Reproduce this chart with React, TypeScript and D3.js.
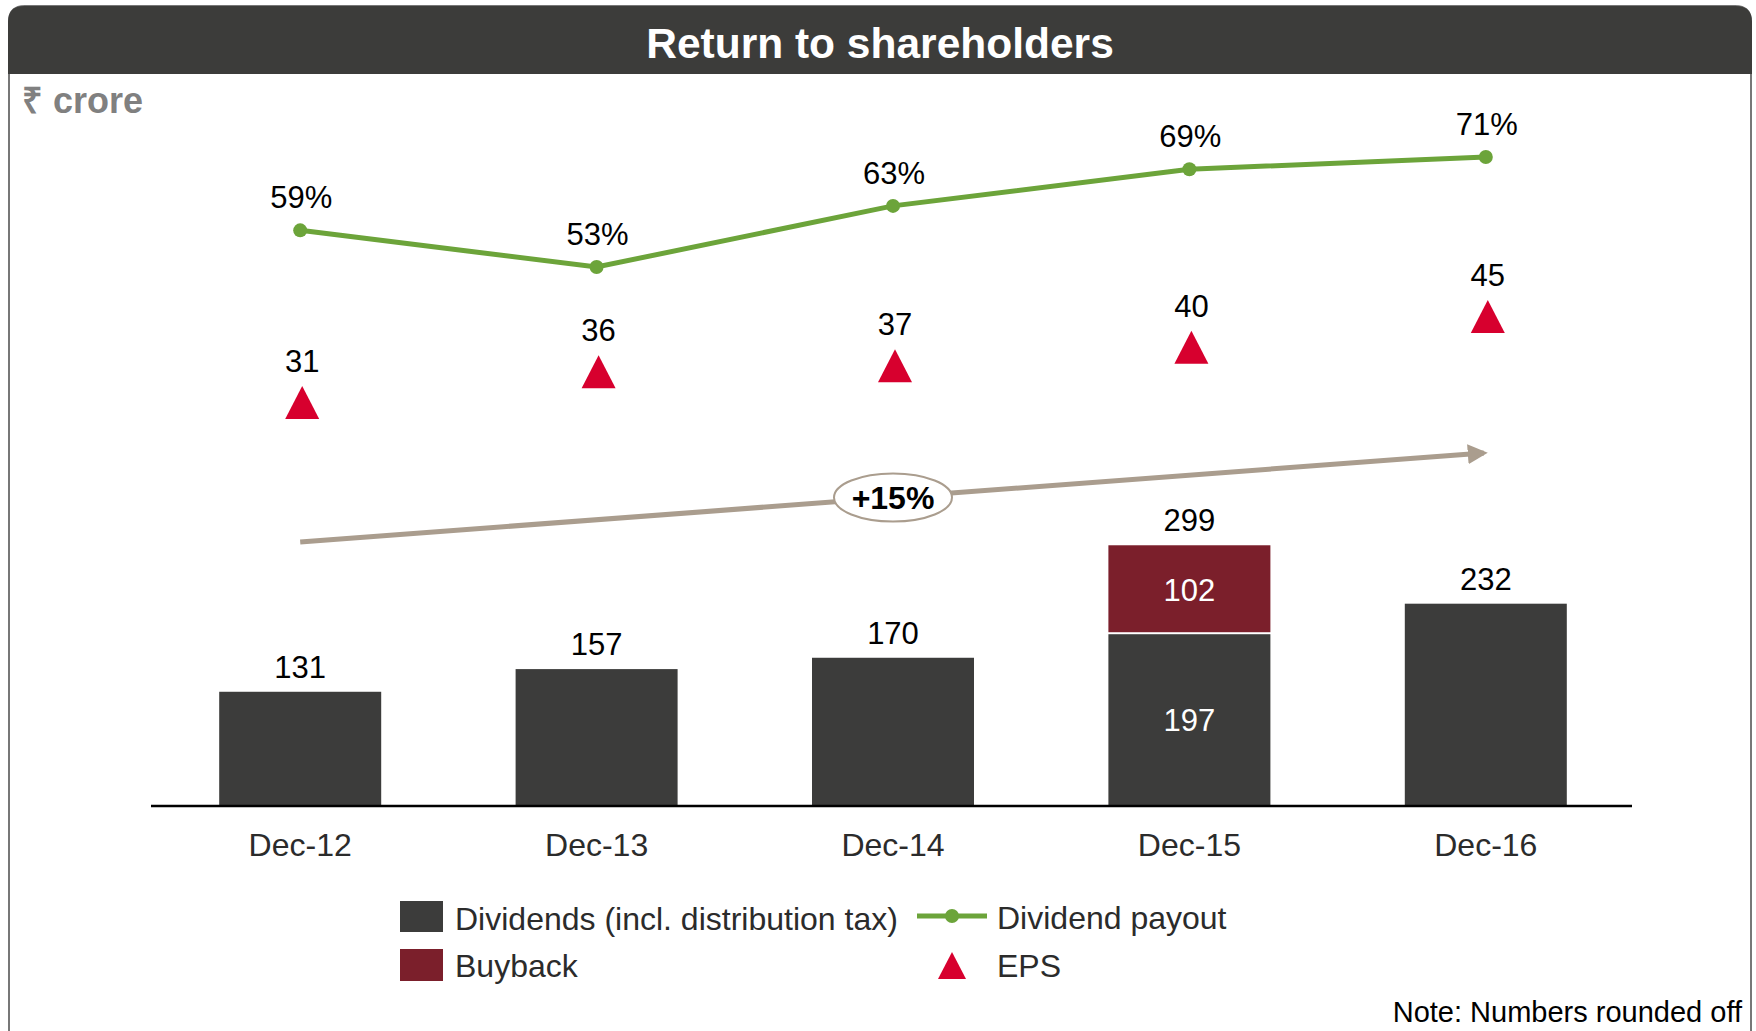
import React from "react";
import * as d3 from "d3";

const categories = ["Dec-12", "Dec-13", "Dec-14", "Dec-15", "Dec-16"];
const dividends = [131, 157, 170, 197, 232];
const buyback = [0, 0, 0, 102, 0];
const totalLabels = [131, 157, 170, 299, 232];
const payout = [59, 53, 63, 69, 71];
const eps = [31, 36, 37, 40, 45];
const cagrLabel = "+15%";
const legendItems = ["Dividends (incl. distribution tax)", "Buyback", "Dividend payout", "EPS"];

const FONT = "'Liberation Sans', Arial, Helvetica, sans-serif";
const C_DARK = "#3c3c3b";
const C_BUY = "#7b1f2b";
const C_GREEN = "#6ca43a";
const C_RED = "#d7002e";
const C_TAUPE = "#aa9d8e";
const C_TEXT = "#2b2b2b";

export default function App() {
  const W = 1756;
  const H = 1031;
  const x = d3.scalePoint<string>().domain(categories).range([152, 1634]).padding(0.5);
  const yBar = d3.scaleLinear().domain([0, 300]).range([806, 544.4]);
  const yPay = d3.scaleLinear().domain([53, 71]).range([267, 157]);
  const yEps = d3.scaleLinear().domain([31, 45]).range([419, 333]);
  const barW = 162;

  const line = d3
    .line<number>()
    .x((_, i) => x(categories[i]) as number)
    .y((d) => yPay(d));

  // trend arrow endpoints tied to first/last category
  const ax0 = x(categories[0]) as number;
  const ax1 = x(categories[4]) as number;
  const ay0 = 542;
  const ay1 = 453;
  const ex = x(categories[2]) as number;
  const ey = ay0 + ((ay1 - ay0) * (ex - ax0)) / (ax1 - ax0);

  const r = 16;
  const framePath = `M9,1040 L9,${6 + r} Q9,6 ${9 + r},6 L${1751 - r},6 Q1751,6 1751,${6 + r} L1751,1040`;
  const titlePath = `M8,74 L8,${6 + r} Q8,6 ${8 + r},6 L${1752 - r},6 Q1752,6 1752,${6 + r} L1752,74 Z`;

  return (
    <svg
      width={W}
      height={H}
      style={{ position: "absolute", left: 0, top: 0, background: "#fff" }}
      fontFamily={FONT}
    >
      <defs>
        <marker id="ah" viewBox="0 0 10 10" refX="8" refY="5" markerWidth="4" markerHeight="4" orient="auto">
          <path d="M0,0 L10,5 L0,10 Z" fill={C_TAUPE} />
        </marker>
      </defs>
      <rect x={0} y={0} width={W} height={H} fill="#fff" />
      <path d={framePath} fill="none" stroke="#777" strokeWidth={2} />
      <path d={titlePath} fill="#3c3c3a" />
      <text x={880} y={58} textAnchor="middle" fill="#fff" fontWeight="bold" fontSize={42.5}>
        Return to shareholders
      </text>
      <text x={22} y={113} fill="#808080" fontWeight="bold" fontSize={36}>
        ₹ crore
      </text>

      {/* bars */}
      {categories.map((c, i) => {
        const cx = x(c) as number;
        const dTop = yBar(dividends[i]);
        const tTop = yBar(dividends[i] + buyback[i]);
        return (
          <g key={c}>
            <rect x={cx - barW / 2} y={dTop} width={barW} height={yBar(0) - dTop} fill={C_DARK} />
            {buyback[i] > 0 && (
              <>
                <rect x={cx - barW / 2} y={tTop} width={barW} height={dTop - tTop - 2} fill={C_BUY} />
                <text x={cx} y={(tTop + dTop) / 2 + 11} textAnchor="middle" fill="#fff" fontSize={31}>
                  {buyback[i]}
                </text>
                <text x={cx} y={(dTop + yBar(0)) / 2 + 11} textAnchor="middle" fill="#fff" fontSize={31}>
                  {dividends[i]}
                </text>
              </>
            )}
            <text x={cx} y={tTop - 14} textAnchor="middle" fill="#000" fontSize={31}>
              {totalLabels[i]}
            </text>
            <text x={cx} y={856} textAnchor="middle" fill={C_TEXT} fontSize={32}>
              {c}
            </text>
          </g>
        );
      })}
      <line x1={151} x2={1632} y1={806} y2={806} stroke="#000" strokeWidth={2.5} />

      {/* trend arrow */}
      <line x1={ax0} y1={ay0} x2={ax1 - 2} y2={ay1} stroke={C_TAUPE} strokeWidth={5} markerEnd="url(#ah)" />
      <ellipse cx={ex} cy={ey} rx={59} ry={24} fill="#fff" stroke={C_TAUPE} strokeWidth={2} />
      <text x={ex} y={ey + 11} textAnchor="middle" fontWeight="bold" fontSize={32} fill="#000">
        {cagrLabel}
      </text>

      {/* payout line */}
      <path d={line(payout) || ""} fill="none" stroke={C_GREEN} strokeWidth={5} />
      {payout.map((v, i) => {
        const cx = x(categories[i]) as number;
        return (
          <g key={"p" + i}>
            <circle cx={cx} cy={yPay(v)} r={7} fill={C_GREEN} />
            <text x={cx + 1} y={yPay(v) - 22} textAnchor="middle" fontSize={31} fill="#000">
              {v}%
            </text>
          </g>
        );
      })}

      {/* EPS */}
      {eps.map((v, i) => {
        const cx = (x(categories[i]) as number) + 2;
        const base = yEps(v);
        return (
          <g key={"e" + i}>
            <path d={`M${cx},${base - 33} L${cx + 17},${base} L${cx - 17},${base} Z`} fill={C_RED} />
            <text x={cx} y={base - 47} textAnchor="middle" fontSize={31} fill="#000">
              {v}
            </text>
          </g>
        );
      })}

      {/* legend */}
      <rect x={400} y={901} width={43} height={31} fill={C_DARK} />
      <text x={455} y={930} fontSize={32} fill={C_TEXT}>{legendItems[0]}</text>
      <rect x={400} y={949} width={43} height={32} fill={C_BUY} />
      <text x={455} y={977} fontSize={32} fill={C_TEXT}>{legendItems[1]}</text>
      <line x1={917} x2={987} y1={916} y2={916} stroke={C_GREEN} strokeWidth={5} />
      <circle cx={952} cy={916} r={7} fill={C_GREEN} />
      <text x={997} y={929} fontSize={32} fill={C_TEXT}>{legendItems[2]}</text>
      <path d={`M952,952 L966,979 L938,979 Z`} fill={C_RED} />
      <text x={997} y={977} fontSize={32} fill={C_TEXT}>{legendItems[3]}</text>

      <text x={1742} y={1022} textAnchor="end" fontSize={29} fill="#000">
        Note: Numbers rounded off
      </text>
    </svg>
  );
}
